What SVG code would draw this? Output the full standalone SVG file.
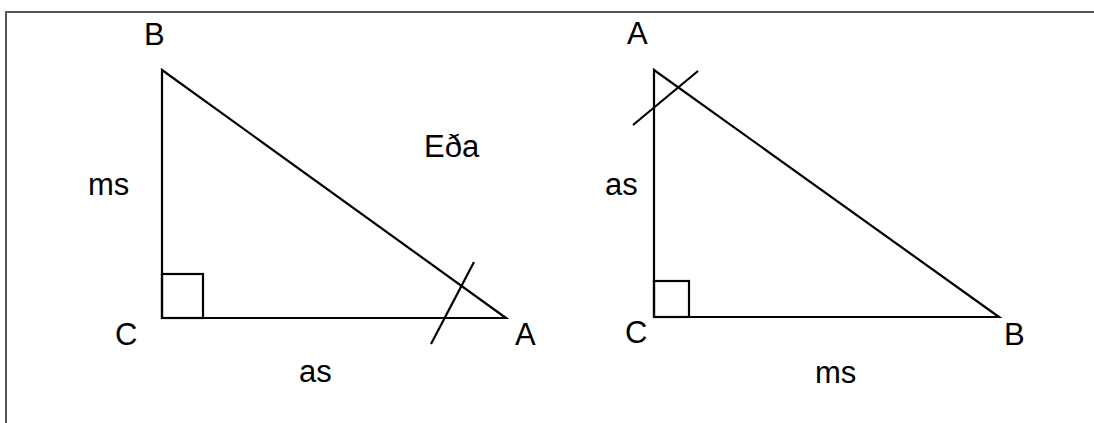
<svg xmlns="http://www.w3.org/2000/svg" width="1094" height="423" viewBox="0 0 1094 423">
<style>
.ln{stroke:#000;stroke-width:2.2;fill:none;stroke-linecap:butt}
.t{font-family:"Liberation Sans",Arial,sans-serif;font-size:31px;fill:#000}
</style>
<rect x="0" y="0" width="1094" height="423" fill="#fff"/>
<path d="M6,423 V12 H1094" fill="none" stroke="#555" stroke-width="2"/>
<g id="left-triangle">
<path class="ln" d="M162,70 L162,318 L506,318 Z"/>
<rect class="ln" x="162" y="274" width="41" height="44"/>
<line class="ln" x1="162" y1="318" x2="203" y2="318" stroke-width="3.5"/>
<line class="ln" x1="431" y1="344" x2="474" y2="262"/>
</g>
<g id="right-triangle">
<path class="ln" d="M654,70 L654,317 L999,317 Z"/>
<rect class="ln" x="654" y="281" width="35" height="36"/>
<line class="ln" x1="633" y1="125" x2="698" y2="71"/>
</g>
<g id="labels">
<text class="t" x="144" y="45">B</text>
<text class="t" x="88" y="195">ms</text>
<text class="t" x="115" y="345">C</text>
<text class="t" x="299" y="382">as</text>
<text class="t" x="515" y="345">A</text>
<text class="t" x="424" y="157">Eða</text>
<text class="t" x="627" y="44">A</text>
<text class="t" x="605" y="195">as</text>
<text class="t" x="625" y="343">C</text>
<text class="t" x="1004" y="345">B</text>
<text class="t" x="815" y="383">ms</text>
</g>
</svg>
